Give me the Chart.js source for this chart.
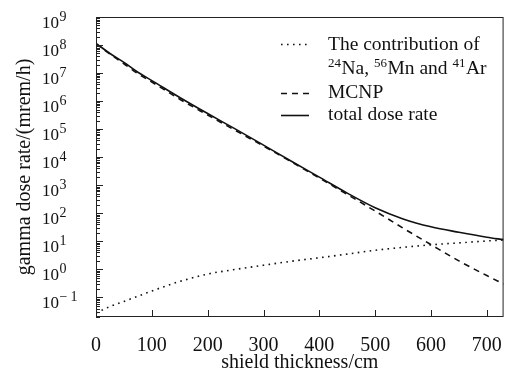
<!DOCTYPE html>
<html><head><meta charset="utf-8">
<script src="https://cdn.jsdelivr.net/npm/chart.js@4/dist/chart.umd.min.js"></script>
<style>html,body{margin:0;padding:0;background:#fff}#wrap{width:511px;height:377px}</style>
</head><body><div id="wrap"><canvas id="c" width="511" height="377"></canvas></div>
<script>
// ---- data ----
const thickness = [0, 25, 50, 75, 100, 150, 200, 250, 300, 350, 400, 450, 500, 550, 600, 650, 700, 730];
const contribution = [0.028, 0.047, 0.072, 0.11, 0.17, 0.37, 0.68, 1.0, 1.4, 1.95, 2.6, 3.5, 4.8, 6.1, 7.5, 8.8, 10.3, 11.2];
const mcnp = [1.12e8, 4.8e7, 2.15e7, 9.5e6, 4.8e6, 1.17e6, 3.2e5, 8.9e4, 2.5e4, 6.8e3, 1.8e3, 470, 120, 29.5, 7.6, 2.0, 0.6, 0.3];
const totalDose = [1.15e8, 5.0e7, 2.4e7, 1.07e7, 5.4e6, 1.35e6, 3.6e5, 1.0e5, 2.7e4, 7.2e3, 1.95e3, 525, 158, 63, 33, 21, 14, 11.5];
const xTickValues = [0, 100, 200, 300, 400, 500, 600, 700];
const yExponents = [-1, 0, 1, 2, 3, 4, 5, 6, 7, 8, 9];
const seriesLabels = ['The contribution of\n^{24}Na, ^{56}Mn and ^{41}Ar', 'MCNP', 'total dose rate'];
const xTitle = 'shield thickness/cm';
const yTitle = 'gamma dose rate/(mrem/h)';

const SERIF = "'Liberation Serif', 'Times New Roman', serif";
const toPts = arr => thickness.map((x, i) => ({x: x, y: arr[i]}));

const boxAndTicks = {
  id: 'boxAndTicks',
  afterDraw(chart) {
    const {ctx, chartArea: a, scales: {x, y}} = chart;
    ctx.save();
    ctx.strokeStyle = '#222';
    ctx.lineWidth = 1;
    ctx.strokeRect(a.left + 0.5, a.top + 0.5, a.right - a.left - 1, a.bottom - a.top - 1);
    ctx.beginPath();
    xTickValues.forEach(v => {
      const px = Math.round(x.getPixelForValue(v)) + 0.5;
      ctx.moveTo(px, a.bottom);
      ctx.lineTo(px, a.bottom - 7);
    });
    for (let e = -2; e <= 9; e++) {
      for (let k = 1; k <= 9; k++) {
        const v = k * Math.pow(10, e);
        if (v < y.min || v > y.max) continue;
        const py = Math.round(y.getPixelForValue(v)) + 0.5;
        ctx.moveTo(a.left, py);
        ctx.lineTo(a.left + (k === 1 ? 7 : 4), py);
      }
    }
    ctx.stroke();
    // y tick labels 10^n
    ctx.fillStyle = '#111';
    ctx.textBaseline = 'alphabetic';
    ctx.textAlign = 'left';
    yExponents.forEach(e => {
      const py = y.getPixelForValue(Math.pow(10, e));
      ctx.font = '17px ' + SERIF;
      const w = ctx.measureText('10').width;
      ctx.fillText('10', 42, py + 10.5);
      ctx.font = '14px ' + SERIF;
      let ex = 42 + w + 0.5;
      if (e < 0) {
        ctx.fillText('\u2212', ex, py + 3.5);
        ex += ctx.measureText('\u2212').width + 3;
      }
      ctx.fillText(String(Math.abs(e)), ex, py + 3.5);
    });
    ctx.restore();
  }
};

function drawRich(ctx, str, x, baseline) {
  const parts = str.split(/(\^\{[^}]*\})/);
  parts.forEach(p => {
    if (!p) return;
    if (p.startsWith('^{')) {
      const t = p.slice(2, -1);
      ctx.font = '13px ' + SERIF;
      ctx.fillText(t, x, baseline - 7);
      x += ctx.measureText(t).width + 0.5;
    } else {
      ctx.font = '19.5px ' + SERIF;
      ctx.fillText(p, x, baseline);
      x += ctx.measureText(p).width;
    }
  });
}

const richLegend = {
  id: 'richLegend',
  afterDraw(chart) {
    const {ctx} = chart;
    const rows = [
      {ds: 0, lineY: 44.5, baseline: 50},
      {ds: 1, lineY: 93.5, baseline: 98},
      {ds: 2, lineY: 115.5, baseline: 120}
    ];
    ctx.save();
    ctx.fillStyle = '#111';
    ctx.textAlign = 'left';
    ctx.textBaseline = 'alphabetic';
    rows.forEach(r => {
      const ds = chart.data.datasets[r.ds];
      ctx.strokeStyle = ds.borderColor;
      ctx.lineWidth = ds.borderWidth;
      ctx.setLineDash(ds.borderDash || []);
      ctx.beginPath();
      ctx.moveTo(281, r.lineY);
      ctx.lineTo(309, r.lineY);
      ctx.stroke();
      ctx.setLineDash([]);
      seriesLabels[r.ds].split('\n').forEach((line, i) => {
        drawRich(ctx, line, 328, r.baseline + i * 24);
      });
    });
    ctx.restore();
  }
};

new Chart(document.getElementById('c'), {
  type: 'line',
  data: {
    datasets: [
      {label: seriesLabels[0], data: toPts(contribution), borderColor: '#111', borderWidth: 1.6, borderDash: [1.6, 4.4], pointRadius: 0, fill: false, cubicInterpolationMode: 'monotone'},
      {label: seriesLabels[1], data: toPts(mcnp), borderColor: '#111', borderWidth: 1.6, borderDash: [6, 5], pointRadius: 0, fill: false, cubicInterpolationMode: 'monotone'},
      {label: seriesLabels[2], data: toPts(totalDose), borderColor: '#111', borderWidth: 1.6, pointRadius: 0, fill: false, cubicInterpolationMode: 'monotone'}
    ]
  },
  options: {
    responsive: false,
    animation: false,
    devicePixelRatio: 1,
    layout: {padding: {left: 0, right: 4, top: 17, bottom: 0}},
    plugins: {legend: {display: false}, tooltip: {enabled: false}},
    scales: {
      x: {
        type: 'linear', min: 0, max: 730,
        afterBuildTicks: s => { s.ticks = xTickValues.map(v => ({value: v})); },
        afterFit: s => { s.height = 60; },
        grid: {display: false},
        border: {display: false},
        ticks: {color: '#111', font: {family: SERIF, size: 20}, padding: 9, maxRotation: 0, autoSkip: false},
        title: {display: true, text: xTitle, color: '#111', font: {family: SERIF, size: 20}, padding: {top: 0, bottom: 2}}
      },
      y: {
        type: 'logarithmic', min: 0.02, max: 1e9,
        afterFit: s => { s.width = 96; },
        grid: {display: false},
        border: {display: false},
        ticks: {display: false},
        title: {display: true, text: yTitle, color: '#111', font: {family: SERIF, size: 20}, padding: {top: 13, bottom: 0}}
      }
    }
  },
  plugins: [boxAndTicks, richLegend]
});
</script>
</body></html>
